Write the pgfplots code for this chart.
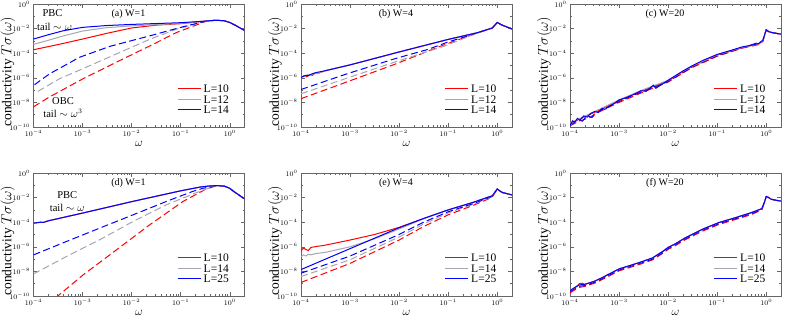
\documentclass[border=0pt]{standalone}
\usepackage{pgfplots}
\pgfplotsset{compat=1.18}
\usepackage{fontspec}
\setmainfont{Liberation Serif}

\definecolor{lgray}{RGB}{165,165,180}

\tikzset{
  ttl/.style={font=\fontsize{10}{11}\selectfont},
  ann/.style={font=\fontsize{10.5}{12}\selectfont},
  dsh/.style={dash pattern=on 7pt off 3.5pt, line width=1pt},
  sol/.style={line width=1pt},
}
% legend key drawn as a coloured rule in the entry text
\newcommand{\lkey}[2]{\textcolor{#1}{\rule[3.6pt]{23pt}{1pt}}\hspace{3pt}#2}

\pgfplotsset{
  scale only axis, width=211pt, height=123pt,
  xmin=1e-4, xmax=2, ymin=1e-10, ymax=1,
  ytick={1e-10,1e-8,1e-6,1e-4,1e-2,1},
  minor ytick={1e-9,1e-7,1e-5,1e-3,1e-1},
  tick label style={font=\fontsize{7}{7}\selectfont},
  xlabel={$\omega$},
  ylabel={conductivity $T\sigma(\omega)$},
  xlabel style={at={(axis description cs:0.5,0)}, yshift=-17pt, anchor=center, font=\fontsize{13}{13}\selectfont},
  ylabel style={at={(axis description cs:-0.122,0.45)}, anchor=center, font=\fontsize{13.5}{14}\selectfont},
  legend style={draw=none, fill=none, at={(axis description cs:0.95,0.06)}, anchor=south east,
    font=\fontsize{11.5}{12}\selectfont, row sep=-2.5pt},
  legend cell align=left,
  axis line style={black!60},
  major tick length=4pt, minor tick length=2pt,
  every tick/.style={black!60},
}

\begin{document}
\begin{tikzpicture}
\useasboundingbox (0,0) rectangle (789pt,320pt);

% ---------------- (a) W=1, L=10,12,14
\begin{loglogaxis}[at={(33.5pt,193pt)}, anchor=south west]
\addlegendimage{empty legend}\addlegendentry{\lkey{red}{L=10}}
\addlegendimage{empty legend}\addlegendentry{\lkey{lgray}{L=12}}
\addlegendimage{empty legend}\addlegendentry{\lkey{blue}{L=14}}
\addplot[dsh,color=red,forget plot] coordinates {(1e-4,4.37e-9)(2.14e-4,2.82e-8)(1.02e-3,8.32e-7)(4.9e-3,1.86e-5)(2.4e-2,4.07e-4)(8.32e-2,4.9e-3)(0.347,4.27e-2)(0.5,4.68e-2)(0.75,4.47e-2)(1,3.16e-2)(1.4,1.58e-2)(2,7.08e-3)};
\addplot[dsh,color=lgray,forget plot] coordinates {(1.23e-4,7.94e-8)(3.39e-4,8.32e-7)(1.2e-3,7.41e-6)(4.9e-3,8.71e-5)(2.4e-2,1.41e-3)(8.32e-2,9.12e-3)(0.295,3.55e-2)(0.5,4.68e-2)(0.75,4.47e-2)(1,3.16e-2)(1.4,1.58e-2)(2,7.08e-3)};
\addplot[dsh,color=blue,forget plot] coordinates {(1.05e-4,2.75e-7)(2.14e-4,2.14e-6)(8.71e-4,4.68e-5)(3.63e-3,3.63e-4)(2.4e-2,2.63e-3)(9.77e-2,1.23e-2)(0.347,4.27e-2)(0.5,4.68e-2)(0.75,4.47e-2)(1,3.16e-2)(1.4,1.58e-2)(2,7.08e-3)};
\addplot[sol,color=red,forget plot] coordinates {(1e-4,1.91e-4)(3.16e-4,5.01e-4)(1e-3,1.41e-3)(3.16e-3,4.17e-3)(1e-2,1.12e-2)(3.16e-2,1.91e-2)(0.1,2.51e-2)(0.3,3.98e-2)(0.5,4.68e-2)(0.75,4.47e-2)(1,3.16e-2)(1.4,1.58e-2)(2,7.08e-3)};
\addplot[sol,color=lgray,forget plot] coordinates {(1e-4,5.25e-4)(2e-4,1.12e-3)(4e-4,2.51e-3)(1e-3,6.31e-3)(3.16e-3,1.2e-2)(1e-2,1.66e-2)(0.1,2.63e-2)(0.3,3.98e-2)(0.5,4.68e-2)(0.75,4.47e-2)(1,3.16e-2)(1.4,1.58e-2)(2,7.08e-3)};
\addplot[sol,color=blue,forget plot] coordinates {(1e-4,1.41e-3)(2e-4,3.16e-3)(4e-4,6.61e-3)(1e-3,1.26e-2)(3.16e-3,1.78e-2)(1e-2,2.19e-2)(0.1,3.02e-2)(0.3,3.98e-2)(0.5,4.68e-2)(0.75,4.47e-2)(1,3.16e-2)(1.4,1.58e-2)(2,7.08e-3)};
\node[ttl] at (rel axis cs:0.45,0.92) {(a) W=1};
\node[ann] at (rel axis cs:0.09,0.93) {PBC};
\node[ann] at (rel axis cs:0.10,0.81) {tail $\sim\omega$};
\node[ann] at (rel axis cs:0.14,0.21) {OBC};
\node[ann] at (rel axis cs:0.14,0.11) {tail $\sim\omega^3$};
\end{loglogaxis}

% ---------------- (b) W=4
\begin{loglogaxis}[at={(301pt,193pt)}, anchor=south west]
\addlegendimage{empty legend}\addlegendentry{\lkey{red}{L=10}}
\addlegendimage{empty legend}\addlegendentry{\lkey{lgray}{L=12}}
\addlegendimage{empty legend}\addlegendentry{\lkey{blue}{L=14}}
\addplot[dsh,color=red,forget plot] coordinates {(1e-4,2.0e-8)(8.32e-4,4.37e-7)(8.32e-3,1.29e-5)(7.08e-2,3.8e-4)(0.389,4.37e-3)(0.794,1.12e-2)(1,3.16e-2)(1.26,1.91e-2)(2,9.33e-3)};
\addplot[dsh,color=lgray,forget plot] coordinates {(1e-4,5.01e-8)(8.32e-4,8.91e-7)(8.32e-3,1.95e-5)(8.32e-2,3.72e-4)(0.389,4.27e-3)(0.794,1.12e-2)(1,3.16e-2)(1.26,1.91e-2)(2,9.33e-3)};
\addplot[dsh,color=blue,forget plot] coordinates {(1e-4,1.12e-7)(8.32e-4,2.0e-6)(8.32e-3,3.63e-5)(3.89e-2,2.04e-4)(9.77e-2,7.94e-4)(0.389,4.47e-3)(0.794,1.12e-2)(1,3.16e-2)(1.26,1.91e-2)(2,9.33e-3)};
\addplot[sol,color=red,forget plot] coordinates {(1e-4,1.0e-6)(1.15e-4,1.5e-6)(1.3e-4,1.2e-6)(1.5e-4,1.8e-6)(1.7e-4,1.6e-6)(2e-4,2.6e-6)(2.3e-4,2.4e-6)(3.16e-4,3.8e-6)(1e-3,1.12e-5)(1e-2,1.26e-4)(0.1,1.32e-3)(0.398,4.68e-3)(0.794,1.12e-2)(1,3.16e-2)(1.26,1.91e-2)(2,9.33e-3)};
\addplot[sol,color=lgray,forget plot] coordinates {(1e-4,1.2e-6)(1.2e-4,1.3e-6)(1.4e-4,1.9e-6)(1.6e-4,1.7e-6)(1.9e-4,2.4e-6)(2.2e-4,2.2e-6)(2.6e-4,3.0e-6)(3.16e-4,3.8e-6)(1e-3,1.12e-5)(1e-2,1.26e-4)(0.1,1.32e-3)(0.398,4.68e-3)(0.794,1.12e-2)(1,3.16e-2)(1.26,1.91e-2)(2,9.33e-3)};
\addplot[sol,color=blue,forget plot] coordinates {(1e-4,1.1e-6)(1.12e-4,1.3e-6)(1.26e-4,1.6e-6)(1.4e-4,1.45e-6)(1.58e-4,1.91e-6)(2e-4,2.63e-6)(3.16e-4,3.8e-6)(1e-3,1.12e-5)(1e-2,1.26e-4)(0.1,1.32e-3)(0.398,4.68e-3)(0.794,1.12e-2)(1,3.16e-2)(1.26,1.91e-2)(2,9.33e-3)};
\node[ttl] at (rel axis cs:0.45,0.92) {(b) W=4};
\end{loglogaxis}

% ---------------- (c) W=20
\begin{loglogaxis}[at={(570pt,193pt)}, anchor=south west]
\addlegendimage{empty legend}\addlegendentry{\lkey{red}{L=10}}
\addlegendimage{empty legend}\addlegendentry{\lkey{lgray}{L=12}}
\addlegendimage{empty legend}\addlegendentry{\lkey{blue}{L=14}}
\addplot[dsh,color=red,forget plot] coordinates {(1e-4,1.26e-10)(1.585e-4,3.16e-10)(2.5e-4,5.6e-10)(3.162e-4,1.12e-9)(1e-3,1e-8)(3.162e-3,7.08e-8)(1e-2,4.47e-7)(2e-2,2.51e-6)(3.162e-2,7.08e-6)(0.1,5.62e-5)(0.3162,2.51e-4)(0.708,5.01e-4)(0.851,8.91e-4)(1,7.94e-3)(1.122,5.62e-3)(1.413,4.47e-3)(2,3.55e-3)};
\addplot[dsh,color=blue,forget plot] coordinates {(1.1e-4,1.6e-10)(1.4e-4,4.0e-10)(1.8e-4,3.0e-10)(2.2e-4,8.0e-10)(2.8e-4,6.0e-10)(3.6e-4,1.6e-9)(1e-3,1.2e-8)(3.162e-3,8.5e-8)(1e-2,5.0e-7)(3.162e-2,8.0e-6)(0.1,6.3e-5)(0.3162,2.7e-4)(0.851,9.5e-4)(1,7.94e-3)(1.122,5.62e-3)(1.413,4.47e-3)(2,3.55e-3)};
\addplot[sol,color=red,forget plot] coordinates {(1e-4,1.78e-10)(1.585e-4,4.47e-10)(3.162e-4,1.585e-9)(1e-3,1.41e-8)(3.162e-3,1e-7)(1e-2,5.62e-7)(2e-2,3.16e-6)(3.162e-2,8.91e-6)(0.1,7.08e-5)(0.3162,2.82e-4)(0.708,5.62e-4)(0.851,1e-3)(1,7.94e-3)(1.122,5.62e-3)(1.413,4.47e-3)(2,3.55e-3)};
\addplot[sol,color=lgray,forget plot] coordinates {(1e-4,2.0e-10)(1.3e-4,3.5e-10)(1.585e-4,5.0e-10)(2e-4,7.5e-10)(3.162e-4,1.8e-9)(1e-3,1.6e-8)(3.162e-3,1.12e-7)(1e-2,6.3e-7)(2e-2,3.4e-6)(3.162e-2,9.5e-6)(0.1,7.5e-5)(0.3162,2.95e-4)(0.708,5.8e-4)(0.851,1.05e-3)(1,7.94e-3)(1.122,5.62e-3)(1.413,4.47e-3)(2,3.55e-3)};
\addplot[sol,color=blue,forget plot] coordinates {(1e-4,1.26e-10)(1.122e-4,3.16e-10)(1.259e-4,2.51e-10)(1.413e-4,5.01e-10)(1.585e-4,3.55e-10)(1.905e-4,7.94e-10)(2.239e-4,6.31e-10)(2.63e-4,1.26e-9)(3.162e-4,1.78e-9)(3.8e-4,1.585e-9)(4.467e-4,3.16e-9)(5.25e-4,2.82e-9)(6.31e-4,5.01e-9)(7.94e-4,7.94e-9)(1e-3,1.585e-8)(1.413e-3,2.51e-8)(1.995e-3,4.47e-8)(2.818e-3,8.91e-8)(3.548e-3,7.94e-8)(5.01e-3,2.51e-7)(5.62e-3,1.41e-7)(1e-2,6.31e-7)(1.995e-2,3.55e-6)(3.162e-2,1e-5)(5.01e-2,2.51e-5)(0.1,7.94e-5)(0.1995,1.78e-4)(0.3162,3.16e-4)(0.501,4.47e-4)(0.708,6.31e-4)(0.851,1.12e-3)(1,7.94e-3)(1.122,5.62e-3)(1.413,4.47e-3)(1.995,3.55e-3)};
\node[ttl] at (rel axis cs:0.45,0.92) {(c) W=20};
\end{loglogaxis}

% ---------------- (d) W=1, L=10,14,25
\begin{loglogaxis}[at={(33.5pt,24pt)}, anchor=south west]
\addlegendimage{empty legend}\addlegendentry{\lkey{red}{L=10}}
\addlegendimage{empty legend}\addlegendentry{\lkey{lgray}{L=14}}
\addlegendimage{empty legend}\addlegendentry{\lkey{blue}{L=25}}
\addplot[dsh,color=red,forget plot] coordinates {(2.818e-4,7.08e-11)(1.023e-3,5.13e-9)(4.9e-3,5.62e-7)(2.344e-2,6.17e-5)(0.112,4.9e-3)(0.331,5.01e-2)(0.562,9.55e-2)(0.794,8.32e-2)(1,5.62e-2)(1.259,2.82e-2)(1.995,7.94e-3)};
\addplot[dsh,color=lgray,forget plot] coordinates {(1e-4,6.17e-9)(4.68e-4,1.62e-7)(2.239e-3,3.72e-6)(1.072e-2,1.15e-4)(5.13e-2,2.63e-3)(0.245,3.24e-2)(0.447,7.59e-2)(0.562,9.55e-2)(0.794,8.32e-2)(1,5.62e-2)(1.259,2.82e-2)(1.995,7.94e-3)};
\addplot[dsh,color=blue,forget plot] coordinates {(1e-4,2.19e-7)(4.68e-4,2.69e-6)(2.239e-3,3.31e-5)(1.072e-2,3.98e-4)(5.13e-2,4.9e-3)(0.178,3.24e-2)(0.282,5.62e-2)(0.447,8.51e-2)(0.562,9.55e-2)(0.794,8.32e-2)(1,5.62e-2)(1.259,2.82e-2)(1.995,7.94e-3)};
\addplot[sol,color=red,forget plot] coordinates {(1e-4,8.32e-5)(1.413e-4,1.0e-4)(1.585e-4,9.55e-5)(1.995e-4,1.29e-4)(1e-3,5.5e-4)(1e-2,4.68e-3)(0.1,3.55e-2)(0.251,7.24e-2)(0.398,8.91e-2)(0.562,9.55e-2)(0.794,8.32e-2)(1,5.62e-2)(1.259,2.82e-2)(1.995,7.94e-3)};
\addplot[sol,color=lgray,forget plot] coordinates {(1e-4,8.32e-5)(1.413e-4,1.0e-4)(1.585e-4,9.55e-5)(1.995e-4,1.29e-4)(1e-3,5.5e-4)(1e-2,4.68e-3)(0.1,3.55e-2)(0.251,7.24e-2)(0.398,8.91e-2)(0.562,9.55e-2)(0.794,8.32e-2)(1,5.62e-2)(1.259,2.82e-2)(1.995,7.94e-3)};
\addplot[sol,color=blue,forget plot] coordinates {(1e-4,8.32e-5)(1.413e-4,1.0e-4)(1.585e-4,9.55e-5)(1.995e-4,1.29e-4)(1e-3,5.5e-4)(1e-2,4.68e-3)(0.1,3.55e-2)(0.251,7.24e-2)(0.398,8.91e-2)(0.562,9.55e-2)(0.794,8.32e-2)(1,5.62e-2)(1.259,2.82e-2)(1.995,7.94e-3)};
\node[ttl] at (rel axis cs:0.45,0.92) {(d) W=1};
\node[ann] at (rel axis cs:0.16,0.82) {PBC};
\node[ann] at (rel axis cs:0.16,0.72) {tail $\sim\omega$};
\end{loglogaxis}

% ---------------- (e) W=4
\begin{loglogaxis}[at={(301pt,24pt)}, anchor=south west]
\addlegendimage{empty legend}\addlegendentry{\lkey{red}{L=10}}
\addlegendimage{empty legend}\addlegendentry{\lkey{lgray}{L=14}}
\addlegendimage{empty legend}\addlegendentry{\lkey{blue}{L=25}}
\addplot[dsh,color=red,forget plot] coordinates {(1e-4,1.26e-9)(1e-3,4.47e-8)(1e-2,3.55e-6)(3.162e-2,4.47e-5)(0.1,3.98e-4)(0.3162,2.24e-3)(0.794,1.07e-2)(1,5.01e-2)(1.122,3.55e-2)(1.259,2.63e-2)(1.995,1.66e-2)};
\addplot[dsh,color=lgray,forget plot] coordinates {(1e-4,3.8e-9)(1e-3,8.91e-8)(1e-2,6.31e-6)(3.162e-2,7.08e-5)(0.1,5.62e-4)(0.3162,2.82e-3)(0.794,1.17e-2)(1,5.01e-2)(1.122,3.55e-2)(1.259,2.63e-2)(1.995,1.66e-2)};
\addplot[dsh,color=blue,forget plot] coordinates {(1e-4,7.08e-9)(1e-3,1.78e-7)(1e-2,1e-5)(3.162e-2,1e-4)(0.1,7.08e-4)(0.3162,3.16e-3)(0.794,1.26e-2)(1,5.01e-2)(1.122,3.55e-2)(1.259,2.63e-2)(1.995,1.66e-2)};
\addplot[sol,color=red,forget plot] coordinates {(1e-4,5.01e-7)(1.122e-4,7.59e-7)(1.259e-4,6.03e-7)(1.413e-4,5.01e-7)(1.585e-4,8.91e-7)(1.905e-4,1e-6)(2.239e-4,1.12e-6)(2.818e-4,1.26e-6)(3.548e-4,1.51e-6)(5.01e-4,2.0e-6)(1e-3,3.55e-6)(3.162e-3,1e-5)(1e-2,3.8e-5)(3.162e-2,2.0e-4)(0.1,1e-3)(0.3162,3.98e-3)(0.794,1.41e-2)(1,5.01e-2)(1.122,3.55e-2)(1.259,2.63e-2)(1.995,1.66e-2)};
\addplot[sol,color=lgray,forget plot] coordinates {(1e-4,1.585e-7)(1.122e-4,2.24e-7)(1.259e-4,1.78e-7)(1.413e-4,2.51e-7)(1.585e-4,2.24e-7)(1.995e-4,2.82e-7)(3.162e-4,3.55e-7)(1e-3,1e-6)(3.162e-3,4.47e-6)(1e-2,2.82e-5)(3.162e-2,1.91e-4)(0.1,1e-3)(0.3162,3.98e-3)(0.794,1.41e-2)(1,5.01e-2)(1.122,3.55e-2)(1.259,2.63e-2)(1.995,1.66e-2)};
\addplot[sol,color=blue,forget plot] coordinates {(1e-4,1.41e-8)(3.162e-4,1e-7)(1e-3,7.08e-7)(3.162e-3,5.01e-6)(1e-2,3.55e-5)(3.162e-2,2.0e-4)(0.1,1e-3)(0.3162,3.98e-3)(0.794,1.41e-2)(1,5.01e-2)(1.122,3.55e-2)(1.259,2.63e-2)(1.995,1.66e-2)};
\node[ttl] at (rel axis cs:0.45,0.92) {(e) W=4};
\end{loglogaxis}

% ---------------- (f) W=20
\begin{loglogaxis}[at={(570pt,24pt)}, anchor=south west]
\addlegendimage{empty legend}\addlegendentry{\lkey{red}{L=10}}
\addlegendimage{empty legend}\addlegendentry{\lkey{lgray}{L=14}}
\addlegendimage{empty legend}\addlegendentry{\lkey{blue}{L=25}}
\addplot[dsh,color=red,forget plot] coordinates {(1e-4,1.8e-10)(1.26e-4,3.2e-10)(1.55e-4,5.0e-10)(2e-4,6.0e-10)(3.16e-4,1.1e-9)(4.57e-4,2.2e-9)(1e-3,1.1e-8)(2.51e-3,3.5e-8)(4.79e-3,8.5e-8)(7.94e-3,3.1e-7)(1e-2,6.2e-7)(1.41e-2,1.25e-6)(2.24e-2,3.8e-6)(4.9e-2,1.8e-5)(0.107,6.4e-5)(0.251,1.8e-4)(0.501,4.2e-4)(0.813,1.0e-3)(0.933,5.01e-3)(1,1.23e-2)(1.122,1e-2)(1.259,7.41e-3)(1.585,6.03e-3)(1.995,5.25e-3)};
\addplot[dsh,color=blue,forget plot] coordinates {(1e-4,2.2e-10)(1.26e-4,4.0e-10)(1.55e-4,6.3e-10)(2e-4,7.0e-10)(3.16e-4,1.3e-9)(4.57e-4,2.6e-9)(1e-3,1.3e-8)(2.51e-3,4.2e-8)(4.79e-3,1.0e-7)(7.94e-3,3.7e-7)(1e-2,7.4e-7)(1.41e-2,1.5e-6)(2.24e-2,4.5e-6)(4.9e-2,2.15e-5)(0.107,7.6e-5)(0.251,2.1e-4)(0.501,5.0e-4)(0.813,1.1e-3)(0.933,5.01e-3)(1,1.23e-2)(1.122,1e-2)(1.259,7.41e-3)(1.585,6.03e-3)(1.995,5.25e-3)};
\addplot[sol,color=red,forget plot] coordinates {(1e-4,2.5e-10)(1.26e-4,4.5e-10)(1.55e-4,1.0e-9)(1.78e-4,1.1e-9)(2e-4,8.5e-10)(3.162e-4,1.585e-9)(4.57e-4,3.16e-9)(1e-3,1.585e-8)(2.512e-3,5.01e-8)(4.79e-3,1.23e-7)(7.94e-3,4.47e-7)(1e-2,8.91e-7)(1.413e-2,1.78e-6)(2.239e-2,5.37e-6)(4.9e-2,2.57e-5)(0.107,9.12e-5)(0.251,2.51e-4)(0.501,6.03e-4)(0.813,1.26e-3)(0.933,5.01e-3)(1,1.23e-2)(1.122,1e-2)(1.259,7.41e-3)(1.585,6.03e-3)(1.995,5.25e-3)};
\addplot[sol,color=lgray,forget plot] coordinates {(1e-4,2.75e-10)(1.259e-4,5.01e-10)(1.549e-4,7.94e-10)(1.995e-4,8.91e-10)(3.162e-4,1.585e-9)(4.57e-4,3.16e-9)(1e-3,1.585e-8)(2.512e-3,5.01e-8)(4.79e-3,1.23e-7)(7.94e-3,4.47e-7)(1e-2,8.91e-7)(1.413e-2,1.78e-6)(2.239e-2,5.37e-6)(4.9e-2,2.57e-5)(0.107,9.12e-5)(0.251,2.51e-4)(0.501,6.03e-4)(0.813,1.26e-3)(0.933,5.01e-3)(1,1.23e-2)(1.122,1e-2)(1.259,7.41e-3)(1.585,6.03e-3)(1.995,5.25e-3)};
\addplot[sol,color=blue,forget plot] coordinates {(1e-4,2.75e-10)(1.259e-4,5.01e-10)(1.549e-4,7.94e-10)(1.995e-4,8.91e-10)(3.162e-4,1.585e-9)(4.57e-4,3.16e-9)(1e-3,1.585e-8)(2.512e-3,5.01e-8)(4.79e-3,1.23e-7)(7.94e-3,4.47e-7)(1e-2,8.91e-7)(1.413e-2,1.78e-6)(2.239e-2,5.37e-6)(4.9e-2,2.57e-5)(0.107,9.12e-5)(0.251,2.51e-4)(0.501,6.03e-4)(0.813,1.26e-3)(0.933,5.01e-3)(1,1.23e-2)(1.122,1e-2)(1.259,7.41e-3)(1.585,6.03e-3)(1.995,5.25e-3)};
\node[ttl] at (rel axis cs:0.45,0.92) {(f) W=20};
\end{loglogaxis}
\end{tikzpicture}
\end{document}
